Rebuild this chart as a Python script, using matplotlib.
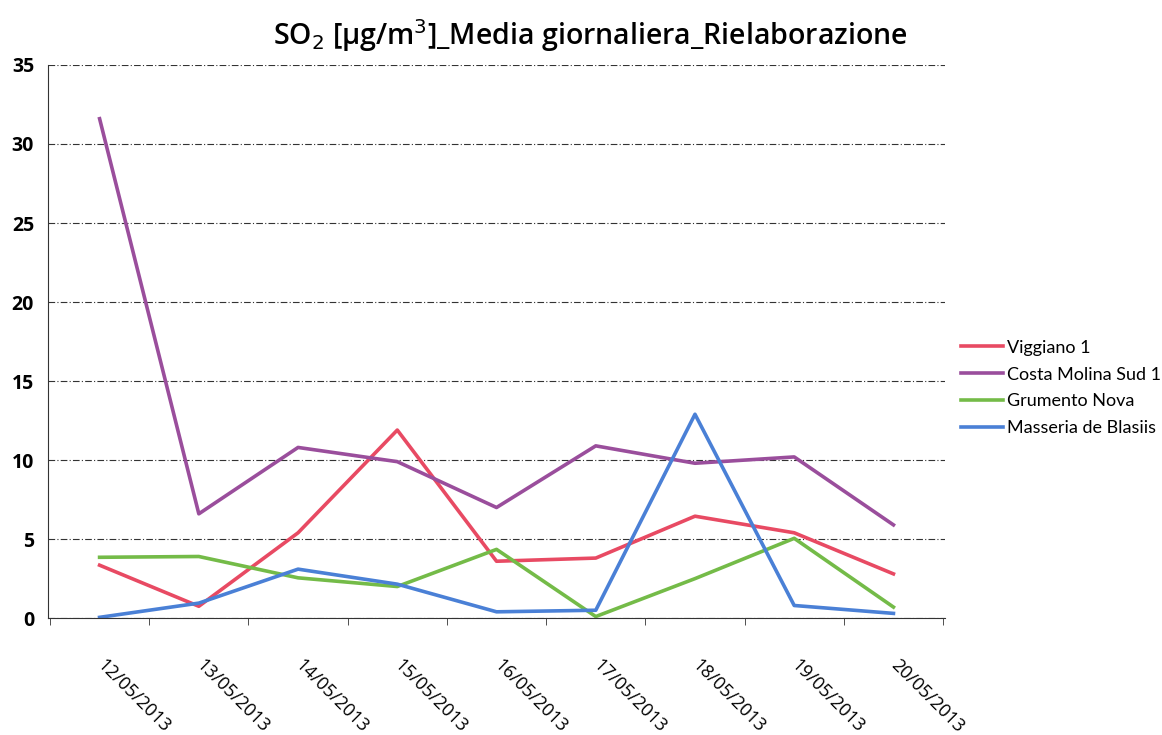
import numpy as np
import matplotlib.pyplot as plt

dates = ['12/05/2013', '13/05/2013', '14/05/2013', '15/05/2013', '16/05/2013',
         '17/05/2013', '18/05/2013', '19/05/2013', '20/05/2013']
viggiano = [3.35, 0.75, 5.4, 11.9, 3.6, 3.8, 6.45, 5.4, 2.8]
costa_molina = [31.6, 6.6, 10.8, 9.9, 7.0, 10.9, 9.8, 10.2, 5.9]
grumento = [3.85, 3.9, 2.55, 2.0, 4.35, 0.1, 2.5, 5.05, 0.7]
masseria = [0.05, 0.95, 3.1, 2.15, 0.4, 0.5, 12.9, 0.8, 0.3]

plt.rcParams['font.family'] = ['Open Sans', 'DejaVu Sans']

fig = plt.figure(figsize=(11.62, 7.35), dpi=100)
ax = fig.add_axes([0.0413, 0.159, 0.772, 0.7526])

x = np.arange(len(dates))
ax.plot(x, viggiano, color='#e84a63', lw=2.6, label='Viggiano 1')
ax.plot(x, costa_molina, color='#9a4e9c', lw=2.6, label='Costa Molina Sud 1')
ax.plot(x, grumento, color='#74bb48', lw=2.6, label='Grumento Nova')
ax.plot(x, masseria, color='#4a80d6', lw=2.6, label='Masseria de Blasiis')

ax.set_xlim(-0.52, len(dates) - 0.48)
ax.set_ylim(0, 35)
ax.set_yticks(range(0, 36, 5))
ax.yaxis.grid(True, color='#333333', ls=(0, (6, 2, 1, 2)), lw=0.8)
ax.set_axisbelow(True)

ax.set_xticks(x)
ax.set_xticklabels(dates, rotation=-45, ha='left', va='center',
                   rotation_mode='anchor', fontsize=13)
ax.tick_params(axis='x', length=0, pad=32)
ax.set_xticks(np.arange(-0.5, len(dates), 1), minor=True)
ax.tick_params(axis='x', which='minor', length=5, color='#333333')
ax.tick_params(axis='y', length=0, labelsize=14, pad=10)
for lab in ax.get_yticklabels():
    lab.set_fontweight('bold')

for s in ['top', 'right']:
    ax.spines[s].set_visible(False)
ax.spines['left'].set_color('#333333')
ax.spines['bottom'].set_color('#333333')
ax.spines['left'].set_linestyle((0, (6, 1)))
ax.spines['left'].set_linewidth(0.8)

fig.text(0.508, 0.952, 'SO$_2$ [µg/m$^3$]_Media giornaliera_Rielaborazione',
         ha='center', va='center', fontsize=20.5, fontweight='semibold')

ax.legend(loc='center left', bbox_to_anchor=(1.0, 0.416), frameon=False,
          prop={'family': 'Lato', 'size': 13}, handlelength=2.3,
          handletextpad=0.25, labelspacing=0.6)

fig.savefig('out.png', dpi=100)
